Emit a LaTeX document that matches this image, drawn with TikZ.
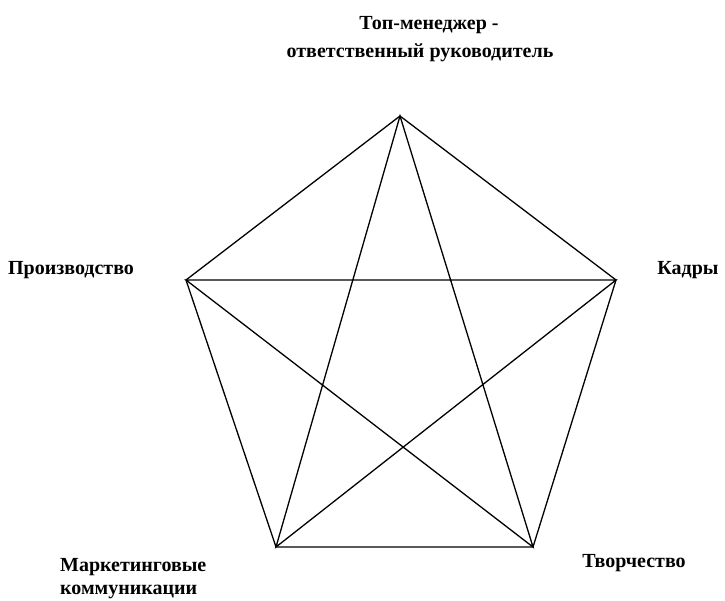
\documentclass[tikz,border=0pt]{standalone}
\usepackage{fontspec}
\setmainfont{Liberation Serif}
\begin{document}
\begin{tikzpicture}[x=1pt,y=-1pt,
  edge/.style={draw=black,line width=1.3pt},
  lbl/.style={font=\fontsize{20}{24}\selectfont\bfseries,inner sep=0pt}]
\useasboundingbox (0,0) rectangle (725,601);
\coordinate (T) at (400,116);
\coordinate (L) at (186,280);
\coordinate (R) at (616,280);
\coordinate (BL) at (276,547);
\coordinate (BR) at (533,547);
\draw[edge] (T) -- (R) -- (BR) -- (BL) -- (L) -- cycle;
\draw[edge] (T) -- (BL) -- (R) -- (L) -- (BR) -- cycle;
\node[lbl] (t1) at (429,25) {Топ-менеджер -};
\node[lbl] (t2) at (420,53) {ответственный руководитель};
\node[lbl] (p) at (71,270) {Производство};
\node[lbl] (k) at (688,270) {Кадры};
\node[lbl,anchor=west] (m1) at (60,567) {Маркетинговые};
\node[lbl,anchor=west] (m2) at (60,592) {коммуникации};
\node[lbl] (tv) at (634,563) {Творчество};
\end{tikzpicture}
\end{document}
